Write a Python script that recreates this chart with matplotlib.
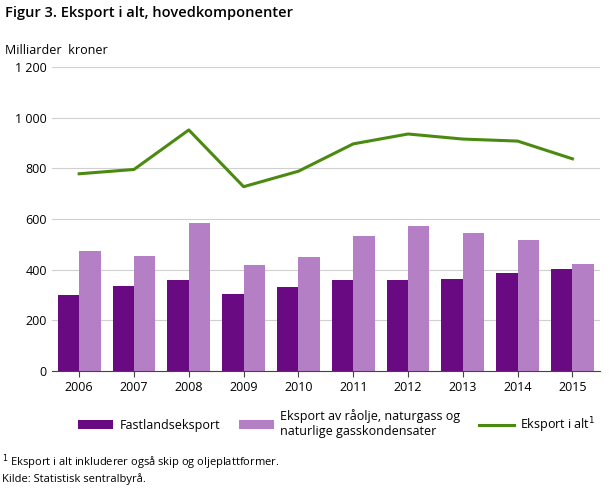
import matplotlib
matplotlib.use("Agg")
import matplotlib.pyplot as plt
import numpy as np

years = ["2006","2007","2008","2009","2010","2011","2012","2013","2014","2015"]
fastland = [300,335,360,305,330,360,360,363,388,403]
olje = [474,455,584,418,450,533,573,545,518,423]
total = [778,795,951,727,788,896,935,915,907,837]
yticks = [0,200,400,600,800,1000,1200]
ylabels = ["0","200","400","600","800","1 000","1 200"]

plt.rcParams["font.family"] = "Open Sans"
fig = plt.figure(figsize=(6.09,4.88), dpi=100)
ax = fig.add_axes([0.085,0.24,0.9,0.623])
x = np.arange(len(years))
w = 0.39
b1 = ax.bar(x-w/2, fastland, w, color="#6a0a82", zorder=2)
b2 = ax.bar(x+w/2, olje, w, color="#b57fc6", zorder=2)
l1, = ax.plot(x, total, color="#4a8a10", lw=2.2, zorder=3)
ax.set_xlim(-0.5, len(years)-0.5)
ax.set_ylim(0,1200)
ax.set_yticks(yticks, ylabels, fontsize=9)
ax.set_xticks(x, years, fontsize=9)
ax.grid(axis="y", color="#d0d0d0", lw=0.8, zorder=0)
for s in ["top","right","left"]:
    ax.spines[s].set_visible(False)
ax.spines["bottom"].set_color("#444444")
ax.tick_params(axis="y", length=0)
ax.tick_params(axis="x", length=4, color="#444444")
fig.text(0.008,0.965,"Figur 3. Eksport i alt, hovedkomponenter", fontsize=10.5, fontweight="semibold")
fig.text(0.008,0.89,"Milliarder  kroner", fontsize=9)
ax.legend([b1, b2, l1],
          ["Fastlandseksport", "Eksport av råolje, naturgass og\nnaturlige gasskondensater", "Eksport i alt$^1$"],
          loc="upper center", bbox_to_anchor=(0.52,-0.09), ncol=3, frameon=False, fontsize=9,
          handlelength=2.8, columnspacing=1.5, handletextpad=0.5)
fig.text(0.003,0.045,"$^1$ Eksport i alt inkluderer også skip og oljeplattformer.", fontsize=8)
fig.text(0.003,0.012,"Kilde: Statistisk sentralbyrå.", fontsize=8)
fig.savefig("out.png", dpi=100)
